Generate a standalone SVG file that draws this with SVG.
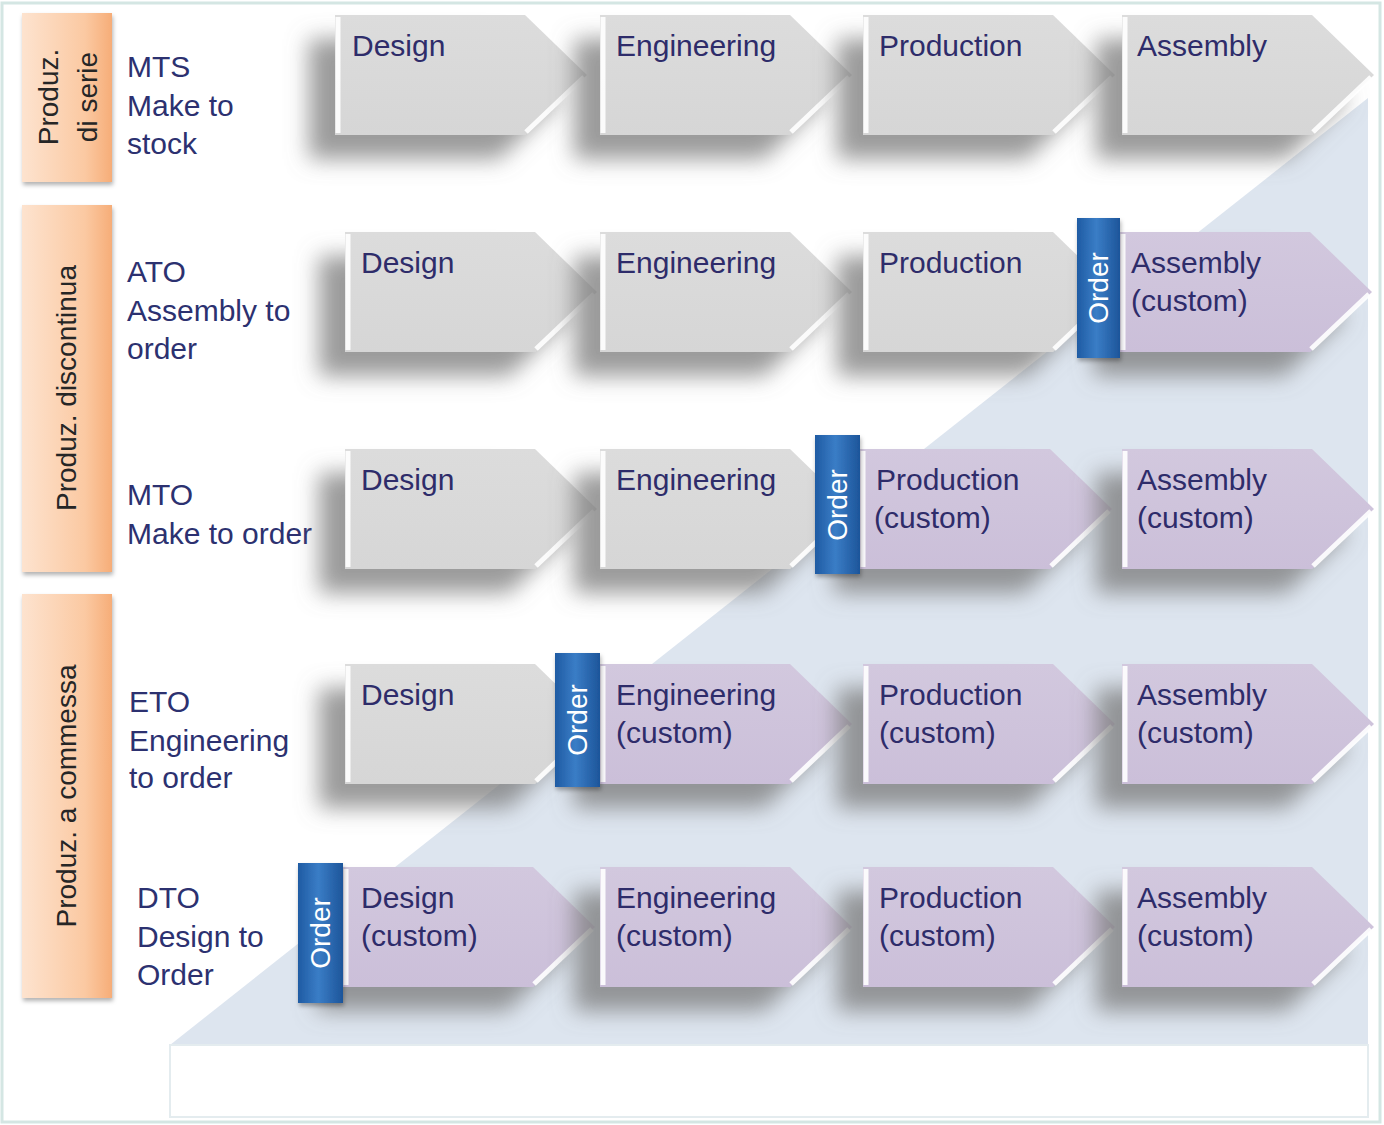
<svg xmlns="http://www.w3.org/2000/svg" xmlns:xlink="http://www.w3.org/1999/xlink" width="1384" height="1125" viewBox="0 0 1384 1125">
<defs>
<style>
.lbl{font-family:"Liberation Sans",Arial,sans-serif;font-size:30px;fill:#2e2c6a}
.side{font-family:"Liberation Sans",Arial,sans-serif;font-size:30px;fill:#2c3170}
.cat{font-family:"Liberation Sans",Arial,sans-serif;font-size:28px;fill:#262626;text-anchor:middle}
.ord{font-family:"Liberation Sans",Arial,sans-serif;font-size:28px;fill:#ffffff;text-anchor:middle}
.grey{fill:url(#gGrey)}
.purp{fill:url(#gPurp)}
.bev{fill:none;stroke:#ffffff;stroke-width:5;opacity:0.9}
.obox{fill:url(#gBlue)}
.orng{fill:url(#gOrange);filter:url(#shS)}
</style>
<linearGradient id="gGrey" x1="0" y1="0" x2="0" y2="1"><stop offset="0" stop-color="#dcdcdc"/><stop offset="1" stop-color="#d6d6d6"/></linearGradient>
<linearGradient id="gPurp" x1="0" y1="0" x2="0" y2="1"><stop offset="0" stop-color="#d2c8de"/><stop offset="1" stop-color="#cbbfd9"/></linearGradient>
<linearGradient id="gBlue" x1="0" y1="0" x2="1" y2="0"><stop offset="0" stop-color="#1f5ba3"/><stop offset="0.45" stop-color="#3a7dc6"/><stop offset="1" stop-color="#1d559a"/></linearGradient>
<linearGradient id="gOrange" x1="0" y1="0" x2="1" y2="0"><stop offset="0" stop-color="#fde3cf"/><stop offset="0.7" stop-color="#fbc9a2"/><stop offset="1" stop-color="#f6ad78"/></linearGradient>
<filter id="sh" x="-30%" y="-30%" width="160%" height="180%">
<feGaussianBlur in="SourceAlpha" stdDeviation="11"/>
<feOffset dx="-26" dy="24" result="b"/>
<feFlood flood-color="#7a7a7a" flood-opacity="0.75"/>
<feComposite in2="b" operator="in"/>
<feMerge><feMergeNode/><feMergeNode in="SourceGraphic"/></feMerge>
</filter>
<filter id="shS" x="-20%" y="-10%" width="140%" height="120%">
<feDropShadow dx="1" dy="3" stdDeviation="2" flood-color="#000" flood-opacity="0.3"/>
</filter>
<path id="chev" d="M0,0 H190 L252,60 L190,120 H0 Z"/>
<path id="bevel" d="M3,2 V118 M191,117 L249,62"/>
</defs>

<g id="background">
<rect x="2" y="3" width="1378" height="1119" fill="#ffffff" stroke="#d4e6e3" stroke-width="3"/>
<polygon points="170,1045 1368,98 1368,1045" fill="#dde5ef"/>
<rect x="170" y="1045" width="1198" height="72" fill="#ffffff" stroke="#e4ecef" stroke-width="2"/>
</g>

<g id="categories">
<g id="cat-serie">
<rect class="orng" x="22" y="13" width="90" height="169"/>
<text class="cat" transform="translate(58,97) rotate(-90)">Produz.</text>
<text class="cat" transform="translate(97,97) rotate(-90)">di serie</text>
</g>
<g id="cat-discontinua">
<rect class="orng" x="22" y="205" width="90" height="367"/>
<text class="cat" transform="translate(76,388) rotate(-90)">Produz. discontinua</text>
</g>
<g id="cat-commessa">
<rect class="orng" x="22" y="594" width="90" height="404"/>
<text class="cat" transform="translate(76,796) rotate(-90)">Produz. a commessa</text>
</g>
</g>

<g id="row-labels">
<text class="side" x="127"><tspan x="127" y="77">MTS</tspan><tspan x="127" y="116">Make to</tspan><tspan x="127" y="154">stock</tspan></text>
<text class="side"><tspan x="127" y="282">ATO</tspan><tspan x="127" y="321">Assembly to</tspan><tspan x="127" y="359">order</tspan></text>
<text class="side"><tspan x="127" y="505">MTO</tspan><tspan x="127" y="544">Make to order</tspan></text>
<text class="side"><tspan x="129" y="712">ETO</tspan><tspan x="129" y="751">Engineering</tspan><tspan x="129" y="788">to order</tspan></text>
<text class="side"><tspan x="137" y="908">DTO</tspan><tspan x="137" y="947">Design to</tspan><tspan x="137" y="985">Order</tspan></text>
</g>

<g id="connectors"></g>

<g id="row-mts">
<g id="mts-design"><use href="#chev" class="grey" x="335" y="15" filter="url(#sh)"/><use href="#bevel" class="bev" x="335" y="15"/><text class="lbl" x="352" y="56">Design</text></g>
<g id="mts-engineering"><use href="#chev" class="grey" x="600" y="15" filter="url(#sh)"/><use href="#bevel" class="bev" x="600" y="15"/><text class="lbl" x="616" y="56">Engineering</text></g>
<g id="mts-production"><use href="#chev" class="grey" x="863" y="15" filter="url(#sh)"/><use href="#bevel" class="bev" x="863" y="15"/><text class="lbl" x="879" y="56">Production</text></g>
<g id="mts-assembly"><use href="#chev" class="grey" x="1122" y="15" filter="url(#sh)"/><use href="#bevel" class="bev" x="1122" y="15"/><text class="lbl" x="1137" y="56">Assembly</text></g>
</g>

<g id="row-ato">
<g id="ato-design"><use href="#chev" class="grey" x="345" y="232" filter="url(#sh)"/><use href="#bevel" class="bev" x="345" y="232"/><text class="lbl" x="361" y="273">Design</text></g>
<g id="ato-engineering"><use href="#chev" class="grey" x="600" y="232" filter="url(#sh)"/><use href="#bevel" class="bev" x="600" y="232"/><text class="lbl" x="616" y="273">Engineering</text></g>
<g id="ato-production"><use href="#chev" class="grey" x="863" y="232" filter="url(#sh)"/><use href="#bevel" class="bev" x="863" y="232"/><text class="lbl" x="879" y="273">Production</text></g>
<g id="ato-assembly"><use href="#chev" class="purp" x="1120" y="232" filter="url(#sh)"/><use href="#bevel" class="bev" x="1120" y="232"/><text class="lbl"><tspan x="1131" y="273">Assembly</tspan><tspan x="1131" y="311">(custom)</tspan></text></g>
<g id="ato-order"><rect class="obox" x="1077" y="218" width="43" height="140" filter="url(#shS)"/><text class="ord" transform="translate(1108,288) rotate(-90)">Order</text></g>
</g>

<g id="row-mto">
<g id="mto-design"><use href="#chev" class="grey" x="345" y="449" filter="url(#sh)"/><use href="#bevel" class="bev" x="345" y="449"/><text class="lbl" x="361" y="490">Design</text></g>
<g id="mto-engineering"><use href="#chev" class="grey" x="600" y="449" filter="url(#sh)"/><use href="#bevel" class="bev" x="600" y="449"/><text class="lbl" x="616" y="490">Engineering</text></g>
<g id="mto-production"><use href="#chev" class="purp" x="860" y="449" filter="url(#sh)"/><use href="#bevel" class="bev" x="860" y="449"/><text class="lbl"><tspan x="876" y="490">Production</tspan><tspan x="874" y="528">(custom)</tspan></text></g>
<g id="mto-assembly"><use href="#chev" class="purp" x="1122" y="449" filter="url(#sh)"/><use href="#bevel" class="bev" x="1122" y="449"/><text class="lbl"><tspan x="1137" y="490">Assembly</tspan><tspan x="1137" y="528">(custom)</tspan></text></g>
<g id="mto-order"><rect class="obox" x="815" y="435" width="45" height="139" filter="url(#shS)"/><text class="ord" transform="translate(847,505) rotate(-90)">Order</text></g>
</g>

<g id="row-eto">
<g id="eto-design"><use href="#chev" class="grey" x="345" y="664" filter="url(#sh)"/><use href="#bevel" class="bev" x="345" y="664"/><text class="lbl" x="361" y="705">Design</text></g>
<g id="eto-engineering"><use href="#chev" class="purp" x="600" y="664" filter="url(#sh)"/><use href="#bevel" class="bev" x="600" y="664"/><text class="lbl"><tspan x="616" y="705">Engineering</tspan><tspan x="616" y="743">(custom)</tspan></text></g>
<g id="eto-production"><use href="#chev" class="purp" x="863" y="664" filter="url(#sh)"/><use href="#bevel" class="bev" x="863" y="664"/><text class="lbl"><tspan x="879" y="705">Production</tspan><tspan x="879" y="743">(custom)</tspan></text></g>
<g id="eto-assembly"><use href="#chev" class="purp" x="1122" y="664" filter="url(#sh)"/><use href="#bevel" class="bev" x="1122" y="664"/><text class="lbl"><tspan x="1137" y="705">Assembly</tspan><tspan x="1137" y="743">(custom)</tspan></text></g>
<g id="eto-order"><rect class="obox" x="555" y="653" width="45" height="134" filter="url(#shS)"/><text class="ord" transform="translate(587,720) rotate(-90)">Order</text></g>
</g>

<g id="row-dto">
<g id="dto-design"><use href="#chev" class="purp" x="343" y="867" filter="url(#sh)"/><use href="#bevel" class="bev" x="343" y="867"/><text class="lbl"><tspan x="361" y="908">Design</tspan><tspan x="361" y="946">(custom)</tspan></text></g>
<g id="dto-engineering"><use href="#chev" class="purp" x="600" y="867" filter="url(#sh)"/><use href="#bevel" class="bev" x="600" y="867"/><text class="lbl"><tspan x="616" y="908">Engineering</tspan><tspan x="616" y="946">(custom)</tspan></text></g>
<g id="dto-production"><use href="#chev" class="purp" x="863" y="867" filter="url(#sh)"/><use href="#bevel" class="bev" x="863" y="867"/><text class="lbl"><tspan x="879" y="908">Production</tspan><tspan x="879" y="946">(custom)</tspan></text></g>
<g id="dto-assembly"><use href="#chev" class="purp" x="1122" y="867" filter="url(#sh)"/><use href="#bevel" class="bev" x="1122" y="867"/><text class="lbl"><tspan x="1137" y="908">Assembly</tspan><tspan x="1137" y="946">(custom)</tspan></text></g>
<g id="dto-order"><rect class="obox" x="298" y="863" width="45" height="140" filter="url(#shS)"/><text class="ord" transform="translate(330,933) rotate(-90)">Order</text></g>
</g>
</svg>
